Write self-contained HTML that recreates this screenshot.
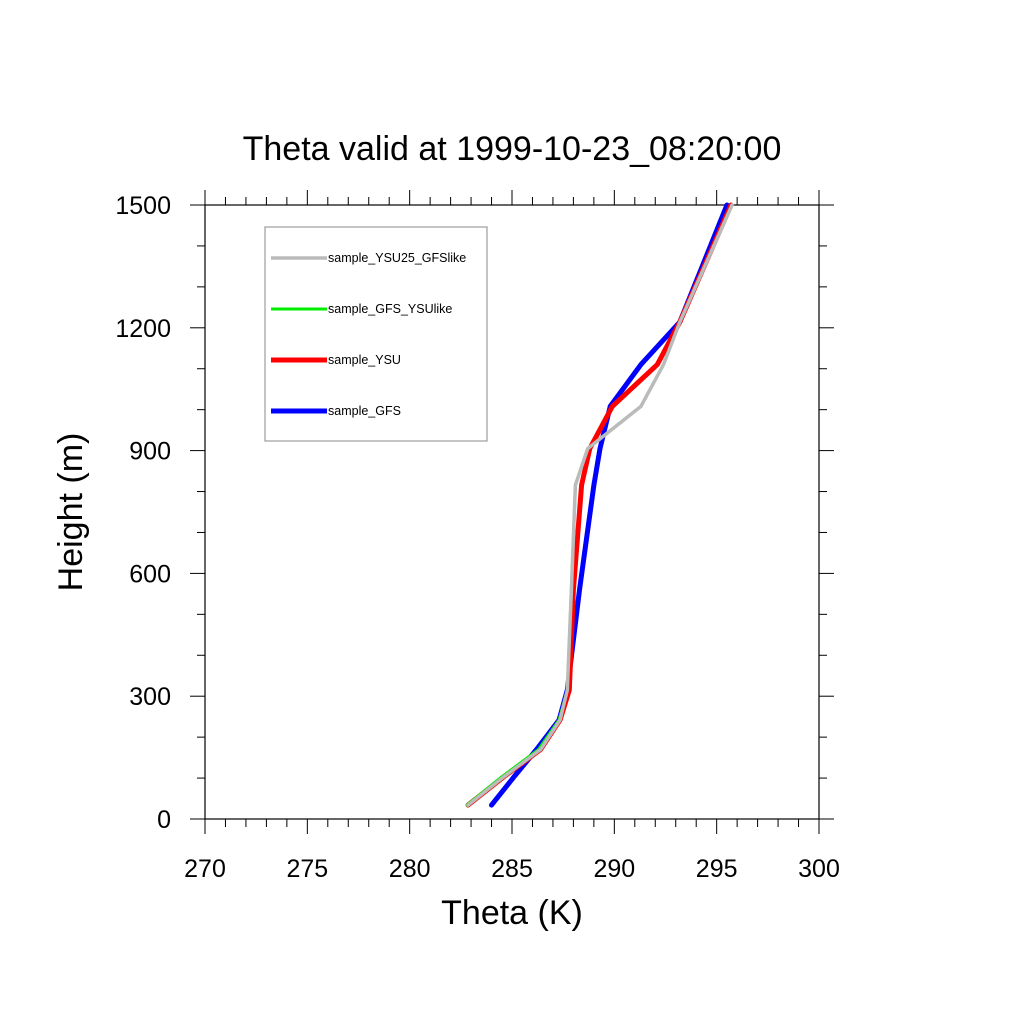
<!DOCTYPE html>
<html><head><meta charset="utf-8"><style>body{margin:0;background:#fff}svg{display:block;font-family:"Liberation Sans",sans-serif}</style></head>
<body>
<svg id="chart" width="1024" height="1024" viewBox="0 0 1024 1024">
<text x="512" y="160" font-size="34" text-anchor="middle">Theta valid at 1999-10-23_08:20:00</text>
<text x="512" y="924" font-size="34" text-anchor="middle">Theta (K)</text>
<text transform="translate(82,512) rotate(-90)" font-size="34" text-anchor="middle">Height (m)</text>
<g id="axes"></g>
<g id="series"></g>
<g>
<rect x="265" y="227" width="222" height="214" fill="none" stroke="#888" stroke-width="1"/>
<g id="legend"></g>
</g>
</svg>
<script>
const xTicks=[270,275,280,285,290,295,300];
const yTicks=[0,300,600,900,1200,1500];
const seriesNames=["sample_YSU25_GFSlike","sample_GFS_YSUlike","sample_YSU","sample_GFS"];
const seriesColors=["#bbbbbb","#00ee00","#ff0000","#0000ff"];
const seriesWidths=[3.5,3,5,5];
const heights=[34,103,170,242,315,560,816,905,1008,1110,1214,1500];
const thetaGFS=[284.0,285.1,286.2,287.3,287.7,288.3,289.0,289.3,289.8,291.3,293.2,295.5];
const thetaYSU=[282.85,284.6,286.4,287.35,287.8,288.0,288.4,288.8,289.9,292.1,293.2,295.7];
const thetaGFSYSUlike=[282.8,284.5,286.3,287.3,287.7,287.9,288.1,288.7,291.3,292.4,293.2,295.75];
const thetaYSU25=[282.85,284.6,286.4,287.35,287.7,287.9,288.1,288.7,291.3,292.4,293.2,295.75];
const seriesData=[thetaYSU25,thetaGFSYSUlike,thetaYSU,thetaGFS];
const drawOrder=[3,2,1,0];
const X0=205,X1=819,Y0=819,Y1=205;
const xs=v=>X0+(v-270)/30*(X1-X0);
const ys=v=>Y0-(v/1500)*(Y0-Y1);
const NS="http://www.w3.org/2000/svg";
function mk(t,a,p){const e=document.createElementNS(NS,t);for(const k in a)e.setAttribute(k,a[k]);p.appendChild(e);return e;}
const ax=document.getElementById('axes');
const box=mk('rect',{x:X0,y:Y1,width:X1-X0,height:Y0-Y1,fill:'none',stroke:'#000','stroke-width':1.2},ax);


for(let v=270;v<=300;v++){const x=xs(v);const L=v%5===0?15:8;
 mk('line',{x1:x,y1:Y0,x2:x,y2:Y0+L,stroke:'#000','stroke-width':1},ax);
 mk('line',{x1:x,y1:Y1,x2:x,y2:Y1-L,stroke:'#000','stroke-width':1},ax);}
for(let v=0;v<=1500;v+=100){const y=ys(v);const L=v%300===0?15:8;
 mk('line',{x1:X0,y1:y,x2:X0-L,y2:y,stroke:'#000','stroke-width':1},ax);
 mk('line',{x1:X1,y1:y,x2:X1+L,y2:y,stroke:'#000','stroke-width':1},ax);}
xTicks.forEach(v=>{const t=mk('text',{x:xs(v),y:877,'font-size':25,'text-anchor':'middle'},ax);t.textContent=v;
 
 });
yTicks.forEach(v=>{const t=mk('text',{x:171,y:ys(v)+9,'font-size':25,'text-anchor':'end'},ax);t.textContent=v;
 
 });
const sg=document.getElementById('series');
drawOrder.forEach(i=>{const pts=heights.map((h,j)=>xs(seriesData[i][j]).toFixed(1)+','+ys(h).toFixed(1)).join(' ');
 const pl=mk('polyline',{points:pts,fill:'none',stroke:seriesColors[i],'stroke-width':seriesWidths[i],'stroke-linejoin':'round','stroke-linecap':'round'},sg);
 
 });
const lg=document.getElementById('legend');
seriesNames.forEach((n,i)=>{const y=258+i*51;
 const g=mk('g',{},lg);
 
 
 mk('line',{x1:271,y1:y,x2:327,y2:y,stroke:seriesColors[i],'stroke-width':seriesWidths[i]},g);
 const t=mk('text',{x:328,y:y+4,'font-size':12.5},g);t.textContent=n;});
</script>
</body></html>
